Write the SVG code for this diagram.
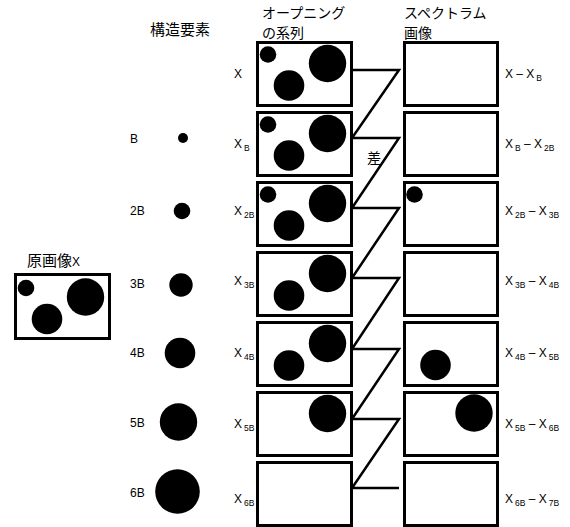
<svg xmlns="http://www.w3.org/2000/svg" width="570" height="527" viewBox="0 0 570 527">
<style>
.box{fill:#fff;stroke:#000;stroke-width:3}
.dot{fill:#000}
.lbl{font-family:"Liberation Sans","DejaVu Sans",sans-serif;font-size:12px;fill:#000}
.sub{font-size:8.5px}
.jp{font-family:"Noto Sans CJK JP","Noto Sans",sans-serif;font-size:15px;fill:#000}
.hd{font-size:14px}
.conn{fill:none;stroke:#000;stroke-width:2.5;stroke-linejoin:miter}
</style>
<rect width="570" height="527" fill="#fff"/>
<g id="headers">
<text class="jp" x="150" y="35">構造要素</text>
<text class="jp hd" x="262" y="18">オープニング</text>
<text class="jp hd" x="262" y="38">の系列</text>
<text class="jp hd" x="404" y="18">スペクトラム</text>
<text class="jp hd" x="404" y="38">画像</text>
</g>
<g id="original">
<text class="jp" x="27" y="266">原画像<tspan style="font-family:'Liberation Sans',sans-serif;font-size:12px">X</tspan></text>
<rect class="box" x="15.5" y="274.5" width="94" height="64"/>
<circle class="dot" cx="26" cy="288" r="8.3"/>
<circle class="dot" cx="47" cy="319" r="15.3"/>
<circle class="dot" cx="85.5" cy="297" r="18.7"/>
</g>
<g id="structuring">
<text class="lbl" x="130" y="143">B</text>
<circle class="dot" cx="183" cy="138" r="5"/>
<text class="lbl" x="130" y="215">2B</text>
<circle class="dot" cx="182" cy="211" r="8.3"/>
<text class="lbl" x="130" y="288">3B</text>
<circle class="dot" cx="181" cy="285" r="11.7"/>
<text class="lbl" x="130" y="357">4B</text>
<circle class="dot" cx="180" cy="353" r="15.3"/>
<text class="lbl" x="130" y="427">5B</text>
<circle class="dot" cx="178.5" cy="422" r="18.7"/>
<text class="lbl" x="130" y="497">6B</text>
<circle class="dot" cx="177.5" cy="491.5" r="22.3"/>
</g>
<g id="connectors">
<polyline class="conn" points="352,70 399,70 352,138 399,138 352,208 399,208 352,278 399,278 352,349 399,349 352,419 399,419 352,488 399,488"/>
<text class="jp" x="367" y="163" style="font-size:14px">差</text>
</g>
<g id="open0">
<rect class="box" x="257.5" y="42.5" width="94" height="63"/>
<circle class="dot" cx="268" cy="54.5" r="8.3"/>
<circle class="dot" cx="289" cy="85.5" r="15.3"/>
<circle class="dot" cx="327.5" cy="63.5" r="18.7"/>
<text class="lbl" x="234" y="78">X</text>
</g>
<g id="open1">
<rect class="box" x="257.5" y="112.5" width="94" height="63"/>
<circle class="dot" cx="268" cy="124.5" r="8.3"/>
<circle class="dot" cx="289" cy="155.5" r="15.3"/>
<circle class="dot" cx="327.5" cy="133.5" r="18.7"/>
<text class="lbl" x="234" y="148">X<tspan class="sub" dx="2" dy="3">B</tspan></text>
</g>
<g id="open2">
<rect class="box" x="257.5" y="182.5" width="94" height="63"/>
<circle class="dot" cx="268" cy="194.5" r="8.3"/>
<circle class="dot" cx="289" cy="225.5" r="15.3"/>
<circle class="dot" cx="327.5" cy="203.5" r="18.7"/>
<text class="lbl" x="234" y="215">X<tspan class="sub" dx="2" dy="3">2B</tspan></text>
</g>
<g id="open3">
<rect class="box" x="257.5" y="252.5" width="94" height="63"/>
<circle class="dot" cx="289" cy="295.5" r="15.3"/>
<circle class="dot" cx="327.5" cy="273.5" r="18.7"/>
<text class="lbl" x="234" y="285">X<tspan class="sub" dx="2" dy="3">3B</tspan></text>
</g>
<g id="open4">
<rect class="box" x="257.5" y="322.5" width="94" height="63"/>
<circle class="dot" cx="289" cy="365.5" r="15.3"/>
<circle class="dot" cx="327.5" cy="343.5" r="18.7"/>
<text class="lbl" x="234" y="357">X<tspan class="sub" dx="2" dy="3">4B</tspan></text>
</g>
<g id="open5">
<rect class="box" x="257.5" y="392.5" width="94" height="63"/>
<circle class="dot" cx="327.5" cy="413.5" r="18.7"/>
<text class="lbl" x="234" y="428">X<tspan class="sub" dx="2" dy="3">5B</tspan></text>
</g>
<g id="open6">
<rect class="box" x="257.5" y="462.5" width="94" height="63"/>
<text class="lbl" x="234" y="503">X<tspan class="sub" dx="2" dy="3">6B</tspan></text>
</g>
<g id="spec0">
<rect class="box" x="404.5" y="42.5" width="93" height="63"/>
<text class="lbl" x="505" y="78">X – X<tspan class="sub" dx="2" dy="3">B</tspan></text>
</g>
<g id="spec1">
<rect class="box" x="404.5" y="112.5" width="93" height="63"/>
<text class="lbl" x="505" y="148">X<tspan class="sub" dx="2" dy="3">B</tspan><tspan dy="-3"> – X</tspan><tspan class="sub" dx="2" dy="3">2B</tspan></text>
</g>
<g id="spec2">
<rect class="box" x="404.5" y="182.5" width="93" height="63"/>
<circle class="dot" cx="414.5" cy="194.5" r="8.3"/>
<text class="lbl" x="505" y="215">X<tspan class="sub" dx="2" dy="3">2B</tspan><tspan dy="-3"> – X</tspan><tspan class="sub" dx="2" dy="3">3B</tspan></text>
</g>
<g id="spec3">
<rect class="box" x="404.5" y="252.5" width="93" height="63"/>
<text class="lbl" x="505" y="285">X<tspan class="sub" dx="2" dy="3">3B</tspan><tspan dy="-3"> – X</tspan><tspan class="sub" dx="2" dy="3">4B</tspan></text>
</g>
<g id="spec4">
<rect class="box" x="404.5" y="322.5" width="93" height="63"/>
<circle class="dot" cx="435.5" cy="365" r="15.3"/>
<text class="lbl" x="505" y="357">X<tspan class="sub" dx="2" dy="3">4B</tspan><tspan dy="-3"> – X</tspan><tspan class="sub" dx="2" dy="3">5B</tspan></text>
</g>
<g id="spec5">
<rect class="box" x="404.5" y="392.5" width="93" height="63"/>
<circle class="dot" cx="474" cy="413" r="18.7"/>
<text class="lbl" x="505" y="428">X<tspan class="sub" dx="2" dy="3">5B</tspan><tspan dy="-3"> – X</tspan><tspan class="sub" dx="2" dy="3">6B</tspan></text>
</g>
<g id="spec6">
<rect class="box" x="404.5" y="462.5" width="93" height="63"/>
<text class="lbl" x="505" y="503">X<tspan class="sub" dx="2" dy="3">6B</tspan><tspan dy="-3"> – X</tspan><tspan class="sub" dx="2" dy="3">7B</tspan></text>
</g>
</svg>
